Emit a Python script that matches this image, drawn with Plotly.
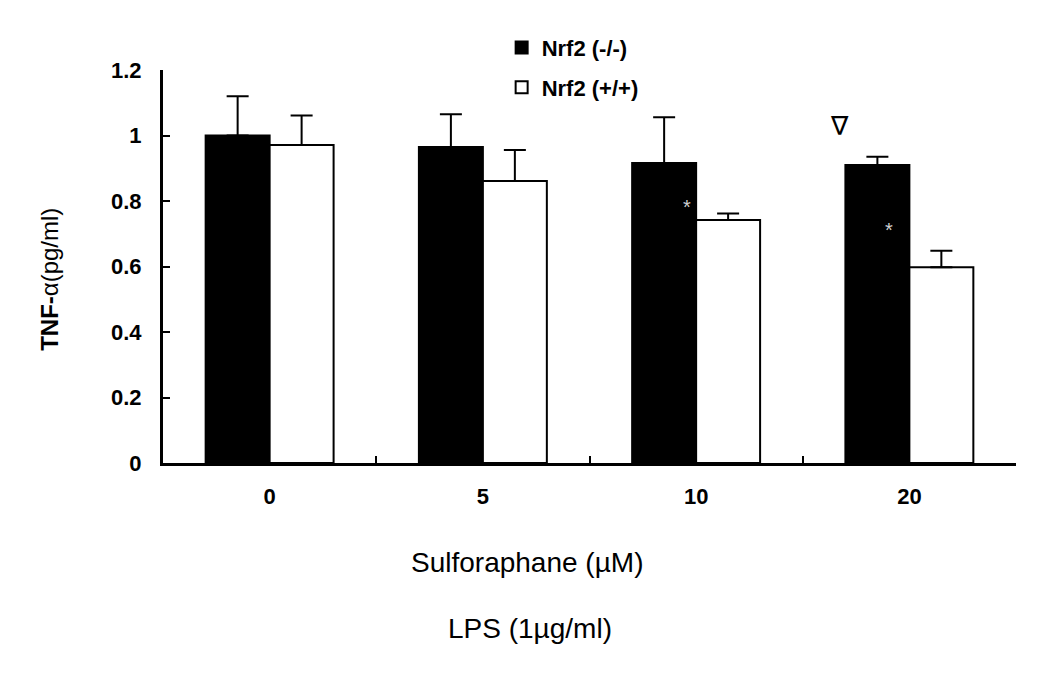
import plotly.graph_objects as go

categories = ["0", "5", "10", "20"]
ko_values = [1.00, 0.965, 0.916, 0.910]
ko_err = [0.12, 0.10, 0.14, 0.025]
wt_values = [0.971, 0.861, 0.742, 0.598]
wt_err = [0.09, 0.095, 0.02, 0.05]
series_names = ["Nrf2 (-/-)", "Nrf2 (+/+)"]

FONT = "Liberation Sans, Arial, sans-serif"

fig = go.Figure()
fig.add_trace(go.Bar(
    x=categories, y=ko_values, name=series_names[0], legendgroup="a",
    marker=dict(color="black", line=dict(color="black", width=2)),
    error_y=dict(type="data", symmetric=False, array=ko_err,
                 arrayminus=[0] * len(ko_err), color="black", thickness=2, width=11),
))
fig.add_trace(go.Bar(
    x=categories, y=wt_values, name=series_names[1], legendgroup="b",
    marker=dict(color="white", line=dict(color="black", width=2)),
    error_y=dict(type="data", symmetric=False, array=wt_err,
                 arrayminus=[0] * len(wt_err), color="black", thickness=2, width=11),
))

fig.update_layout(
    width=1050, height=681,
    margin=dict(l=155, r=42, t=62, b=226),
    paper_bgcolor="white", plot_bgcolor="white",
    barmode="group", bargap=0.4, bargroupgap=0,
    font=dict(family=FONT, color="black"),
    showlegend=True,
    legend=dict(x=0.397, y=1.11, xanchor="left", yanchor="top",
                font=dict(size=22, family=FONT, weight="bold"),
                tracegroupgap=8, traceorder="grouped",
                bgcolor="rgba(0,0,0,0)"),
    xaxis=dict(
        type="category", range=[-0.5, 3.5],
        showline=True, linecolor="black", linewidth=3,
        ticks="inside", tickson="boundaries", ticklen=7, tickwidth=2, tickcolor="black",
        tickfont=dict(size=22, family=FONT, weight="bold"),
        ticklabelstandoff=12,
        showgrid=False, zeroline=False,
    ),
    yaxis=dict(
        range=[0, 1.2], tickvals=[0, 0.2, 0.4, 0.6, 0.8, 1, 1.2],
        ticktext=["0", "0.2", "0.4", "0.6", "0.8", "1", "1.2"],
        showline=True, linecolor="black", linewidth=3,
        ticks="inside", ticklen=7, tickwidth=2, tickcolor="black",
        tickfont=dict(size=22, family=FONT, weight="bold"),
        ticklabelstandoff=14,
        showgrid=False, zeroline=False,
    ),
)

fig.add_annotation(xref="paper", yref="paper", x=0, y=0.466, xshift=-113,
                   text="<b>TNF-</b>α(pg/ml)", textangle=-90, showarrow=False,
                   xanchor="center", yanchor="middle",
                   font=dict(size=24, family=FONT))

fig.add_annotation(x=1.955, y=0.782, text="*", showarrow=False,
                   font=dict(size=20, color="#d0d0d0", family=FONT))
fig.add_annotation(x=2.905, y=0.711, text="*", showarrow=False,
                   font=dict(size=20, color="#d0d0d0", family=FONT))
fig.add_annotation(x=2.674, y=1.03, text="∇", showarrow=False,
                   font=dict(size=26, color="black", family="DejaVu Sans"))

fig.add_annotation(xref="paper", yref="paper", x=0.427, y=-0.252, text="Sulforaphane (µM)",
                   showarrow=False, xanchor="center", yanchor="middle",
                   font=dict(size=28, family=FONT))
fig.add_annotation(xref="paper", yref="paper", x=0.430, y=-0.42, text="LPS (1µg/ml)",
                   showarrow=False, xanchor="center", yanchor="middle",
                   font=dict(size=28, family=FONT))

fig.write_html("out.html")
